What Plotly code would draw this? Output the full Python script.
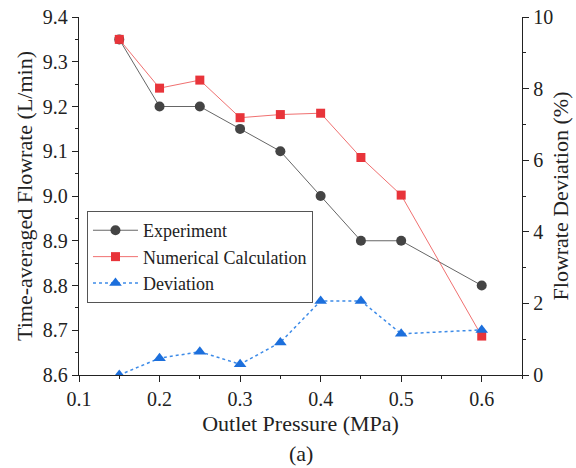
import plotly.graph_objects as go

pressure = [0.15, 0.2, 0.25, 0.3, 0.35, 0.4, 0.45, 0.5, 0.6]
experiment = [9.35, 9.2, 9.2, 9.15, 9.1, 9.0, 8.9, 8.9, 8.8]
numerical = [9.35, 9.241, 9.259, 9.175, 9.182, 9.185, 9.086, 9.002, 8.687]
deviation = [0.0, 0.47, 0.65, 0.30, 0.91, 2.07, 2.07, 1.15, 1.26]

FONT = "Liberation Serif, Times New Roman, serif"

fig = go.Figure()
fig.add_trace(go.Scatter(
    x=pressure, y=experiment, name="Experiment", mode="lines+markers",
    line=dict(color="#666666", width=1),
    marker=dict(symbol="circle", size=10, color="#444444"),
))
fig.add_trace(go.Scatter(
    x=pressure, y=numerical, name="Numerical Calculation", mode="lines+markers",
    line=dict(color="#f07070", width=1),
    marker=dict(symbol="square", size=9, color="#e8343a"),
))
fig.add_trace(go.Scatter(
    x=pressure, y=deviation, name="Deviation", mode="lines+markers", yaxis="y2",
    line=dict(color="#3d8be8", width=1.5, dash="dot"),
    marker=dict(symbol="triangle-up", size=11, color="#1c6fdc"),
))

axis_common = dict(
    showline=True, linecolor="#222222", linewidth=1.3, ticks="outside",
    ticklen=6, tickwidth=1.3, tickcolor="#222222", showgrid=False, zeroline=False,
    tickfont=dict(family=FONT, size=20, color="#222222"), automargin=False,
)

fig.update_layout(
    width=576, height=468,
    margin=dict(l=79, r=54, t=17, b=93, autoexpand=False),
    paper_bgcolor="white", plot_bgcolor="white",
    font=dict(family=FONT, color="#222222"),
    showlegend=True,
    legend=dict(
        x=0.018, y=0.458, xanchor="left", yanchor="top",
        bordercolor="#555555", borderwidth=1, bgcolor="rgba(255,255,255,0)",
        font=dict(family=FONT, size=18, color="#222222"),
        tracegroupgap=0, itemwidth=45,
    ),
    xaxis=dict(
        **axis_common, range=[0.1, 0.65], tick0=0.1, dtick=0.1, tickformat=".1f",
        minor=dict(ticks="outside", ticklen=3, tickcolor="#222222", dtick=0.05, tick0=0.1),
        title=dict(text="Outlet Pressure (MPa)", font=dict(family=FONT, size=22), standoff=6),
    ),
    yaxis=dict(
        **axis_common, range=[8.6, 9.4], tick0=8.6, dtick=0.1, tickformat=".1f",
        minor=dict(ticks="outside", ticklen=3, tickcolor="#222222", dtick=0.05, tick0=8.6),
        title=dict(text="Time-averaged Flowrate (L/min)", font=dict(family=FONT, size=22), standoff=4),
    ),
    yaxis2=dict(
        **axis_common, overlaying="y", side="right", range=[0, 10], tick0=0, dtick=2,
        minor=dict(ticks="outside", ticklen=3, tickcolor="#222222", dtick=1, tick0=0),
        title=dict(text="Flowrate Deviation (%)", font=dict(family=FONT, size=22), standoff=0),
    ),
    annotations=[dict(
        text="(a)", x=0.5, y=-0.218, xref="paper", yref="paper", showarrow=False,
        xanchor="center", yanchor="middle", font=dict(family=FONT, size=22, color="#222222"),
    )],
)

fig.write_html("out.html")
